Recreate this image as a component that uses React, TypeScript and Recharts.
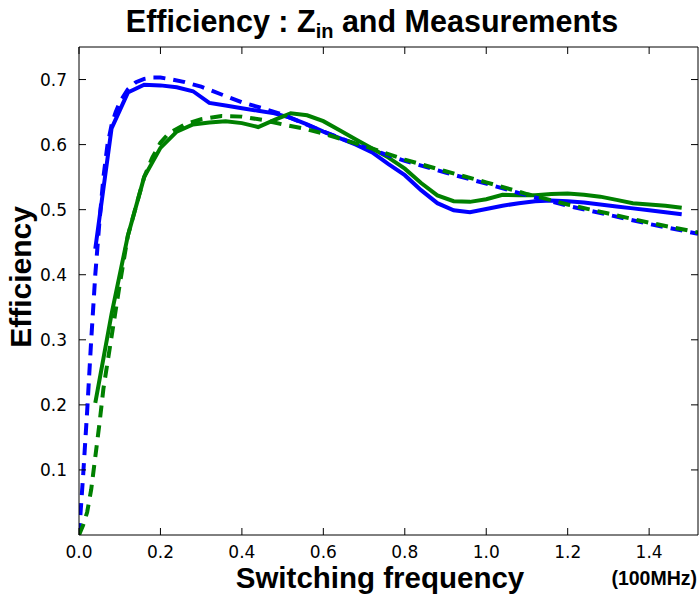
import React from 'react';
import { LineChart, Line, XAxis, YAxis } from 'recharts';

// Measured efficiency (solid lines), frequency in units of 100 MHz
const freqMeas = [0.04, 0.08, 0.12, 0.16, 0.20, 0.24, 0.28, 0.32, 0.36, 0.40, 0.44, 0.48, 0.52, 0.56, 0.60, 0.64, 0.68, 0.72, 0.76, 0.80, 0.84, 0.88, 0.92, 0.96, 1.00, 1.04, 1.08, 1.12, 1.16, 1.20, 1.24, 1.28, 1.32, 1.36, 1.40, 1.44, 1.48];
const effBlueMeas = [0.44, 0.625, 0.68, 0.692, 0.691, 0.688, 0.682, 0.664, 0.66, 0.656, 0.652, 0.648, 0.641, 0.631, 0.62, 0.61, 0.60, 0.588, 0.57, 0.553, 0.53, 0.51, 0.499, 0.496, 0.501, 0.506, 0.51, 0.513, 0.514, 0.513, 0.511, 0.508, 0.505, 0.502, 0.499, 0.496, 0.493];
const effGreenMeas = [0.203, 0.34, 0.46, 0.55, 0.595, 0.62, 0.631, 0.634, 0.636, 0.633, 0.627, 0.638, 0.648, 0.645, 0.636, 0.622, 0.608, 0.594, 0.58, 0.563, 0.541, 0.522, 0.513, 0.512, 0.516, 0.523, 0.522, 0.522, 0.524, 0.525, 0.523, 0.52, 0.515, 0.51, 0.508, 0.506, 0.503];

// Zin model (dashed lines)
const freqModel = [0, 0.01, 0.02, 0.03, 0.04, 0.05, 0.06, 0.07, 0.08, 0.09, 0.10, 0.12, 0.14, 0.16, 0.18, 0.20, 0.22, 0.26, 0.30, 0.35, 0.40, 0.45, 0.50, 0.55, 0.60, 0.70, 0.80, 0.90, 1.00, 1.10, 1.20, 1.30, 1.40, 1.52];
const effBlueModel = [0.0, 0.09, 0.19, 0.30, 0.40, 0.48, 0.55, 0.60, 0.63, 0.65, 0.665, 0.685, 0.696, 0.701, 0.703, 0.703, 0.701, 0.696, 0.689, 0.677, 0.665, 0.656, 0.646, 0.633, 0.62, 0.596, 0.575, 0.557, 0.54, 0.522, 0.506, 0.492, 0.478, 0.463];
const effGreenModel = [0.0, 0.015, 0.035, 0.07, 0.12, 0.17, 0.225, 0.265, 0.305, 0.345, 0.385, 0.46, 0.505, 0.55, 0.58, 0.603, 0.617, 0.631, 0.639, 0.644, 0.643, 0.638, 0.631, 0.625, 0.617, 0.598, 0.577, 0.559, 0.542, 0.524, 0.508, 0.494, 0.48, 0.465];

const xTicks = [0, 0.2, 0.4, 0.6, 0.8, 1.0, 1.2, 1.4];
const yTicks = [0.1, 0.2, 0.3, 0.4, 0.5, 0.6, 0.7];
const xDomain = [0, 1.52];
const yDomain = [0, 0.75];

const toRows = (xs: number[], ys: number[]) => xs.map((x, i) => ({ x, y: ys[i] }));
const blueMeas = toRows(freqMeas, effBlueMeas);
const greenMeas = toRows(freqMeas, effGreenMeas);
const blueModel = toRows(freqModel, effBlueModel);
const greenModel = toRows(freqModel, effGreenModel);

const BLUE = '#0000ff';
const GREEN = '#008000';
const TICK_LEN = 7;
const X_MARGIN = 11;
const Y_MARGIN = 12;
const tickFontFamily = 'DejaVu Sans';
const tickFontSize = 17;
const boldFont = "'Liberation Sans', Arial, sans-serif";

const BottomTick = (props: any) => {
  const { x, y, payload } = props;
  const axisY = y - X_MARGIN;
  return (
    <g>
      <line x1={x} x2={x} y1={axisY} y2={axisY - TICK_LEN} stroke="#000" strokeWidth={1} />
      <text x={x} y={y} dy="0.71em" textAnchor="middle" fontFamily={tickFontFamily} fontSize={tickFontSize} fill="#000">
        {Number(payload.value).toFixed(1)}
      </text>
    </g>
  );
};

const LeftTick = (props: any) => {
  const { x, y, payload } = props;
  const axisX = x + Y_MARGIN;
  return (
    <g>
      <line x1={axisX} x2={axisX + TICK_LEN} y1={y} y2={y} stroke="#000" strokeWidth={1} />
      <text x={x} y={y} dy="0.355em" textAnchor="end" fontFamily={tickFontFamily} fontSize={tickFontSize} fill="#000">
        {Number(payload.value).toFixed(1)}
      </text>
    </g>
  );
};

const TopTick = (props: any) => {
  const { x, y } = props;
  return <line x1={x} x2={x} y1={y} y2={y + TICK_LEN} stroke="#000" strokeWidth={1} />;
};

const RightTick = (props: any) => {
  const { x, y } = props;
  return <line x1={x} x2={x - TICK_LEN} y1={y} y2={y} stroke="#000" strokeWidth={1} />;
};

export default function App() {
  return (
    <div style={{ position: 'absolute', left: 0, top: 0, width: 700, height: 595, background: '#fff' }}>
      <LineChart width={700} height={595} margin={{ top: 46, right: 1, left: 0, bottom: 0 }}>
        <XAxis
          dataKey="x"
          type="number"
          domain={xDomain}
          ticks={xTicks}
          allowDataOverflow
          height={60}
          tickSize={0}
          tickMargin={X_MARGIN}
          tick={<BottomTick />}
          tickLine={false}
          axisLine={{ stroke: '#000', strokeWidth: 1 }}
        />
        <XAxis
          xAxisId="top"
          orientation="top"
          dataKey="x"
          type="number"
          domain={xDomain}
          ticks={xTicks}
          allowDataOverflow
          height={1}
          tickSize={0}
          tickMargin={0}
          tick={<TopTick />}
          tickLine={false}
          axisLine={{ stroke: '#000', strokeWidth: 1 }}
        />
        <YAxis
          type="number"
          domain={yDomain}
          ticks={yTicks}
          allowDataOverflow
          width={79}
          tickSize={0}
          tickMargin={Y_MARGIN}
          tick={<LeftTick />}
          tickLine={false}
          axisLine={{ stroke: '#000', strokeWidth: 1 }}
        />
        <YAxis
          yAxisId="right"
          orientation="right"
          type="number"
          domain={yDomain}
          ticks={yTicks}
          allowDataOverflow
          width={1}
          tickSize={0}
          tickMargin={0}
          tick={<RightTick />}
          tickLine={false}
          axisLine={{ stroke: '#000', strokeWidth: 1 }}
        />
        <Line data={blueMeas} dataKey="y" type="linear" stroke={BLUE} strokeWidth={4} dot={false} isAnimationActive={false} />
        <Line data={greenMeas} dataKey="y" type="linear" stroke={GREEN} strokeWidth={4} dot={false} isAnimationActive={false} />
        <Line data={blueModel} dataKey="y" type="linear" stroke={BLUE} strokeWidth={4} strokeDasharray="12 8" dot={false} isAnimationActive={false} />
        <Line data={greenModel} dataKey="y" type="linear" stroke={GREEN} strokeWidth={4} strokeDasharray="12 8" dot={false} isAnimationActive={false} />
      </LineChart>
      <svg width={700} height={595} style={{ position: 'absolute', left: 0, top: 0, pointerEvents: 'none' }}>
        <text x={372} y={32} textAnchor="middle" fontFamily={boldFont} fontWeight="bold" fontSize={30.5} fill="#000">
          Efficiency : Z<tspan fontSize={20} dy={6}>in</tspan>
          <tspan dy={-6}> and Measurements</tspan>
        </text>
        <text x={380} y={588} textAnchor="middle" fontFamily={boldFont} fontWeight="bold" fontSize={29.5} fill="#000">
          Switching frequency
        </text>
        <text x={697} y={585} textAnchor="end" fontFamily={boldFont} fontWeight="bold" fontSize={19.5} fill="#000">
          (100MHz)
        </text>
        <text x={31} y={277} textAnchor="middle" transform="rotate(-90, 31, 277)" fontFamily={boldFont} fontWeight="bold" fontSize={30} fill="#000">
          Efficiency
        </text>
      </svg>
    </div>
  );
}
